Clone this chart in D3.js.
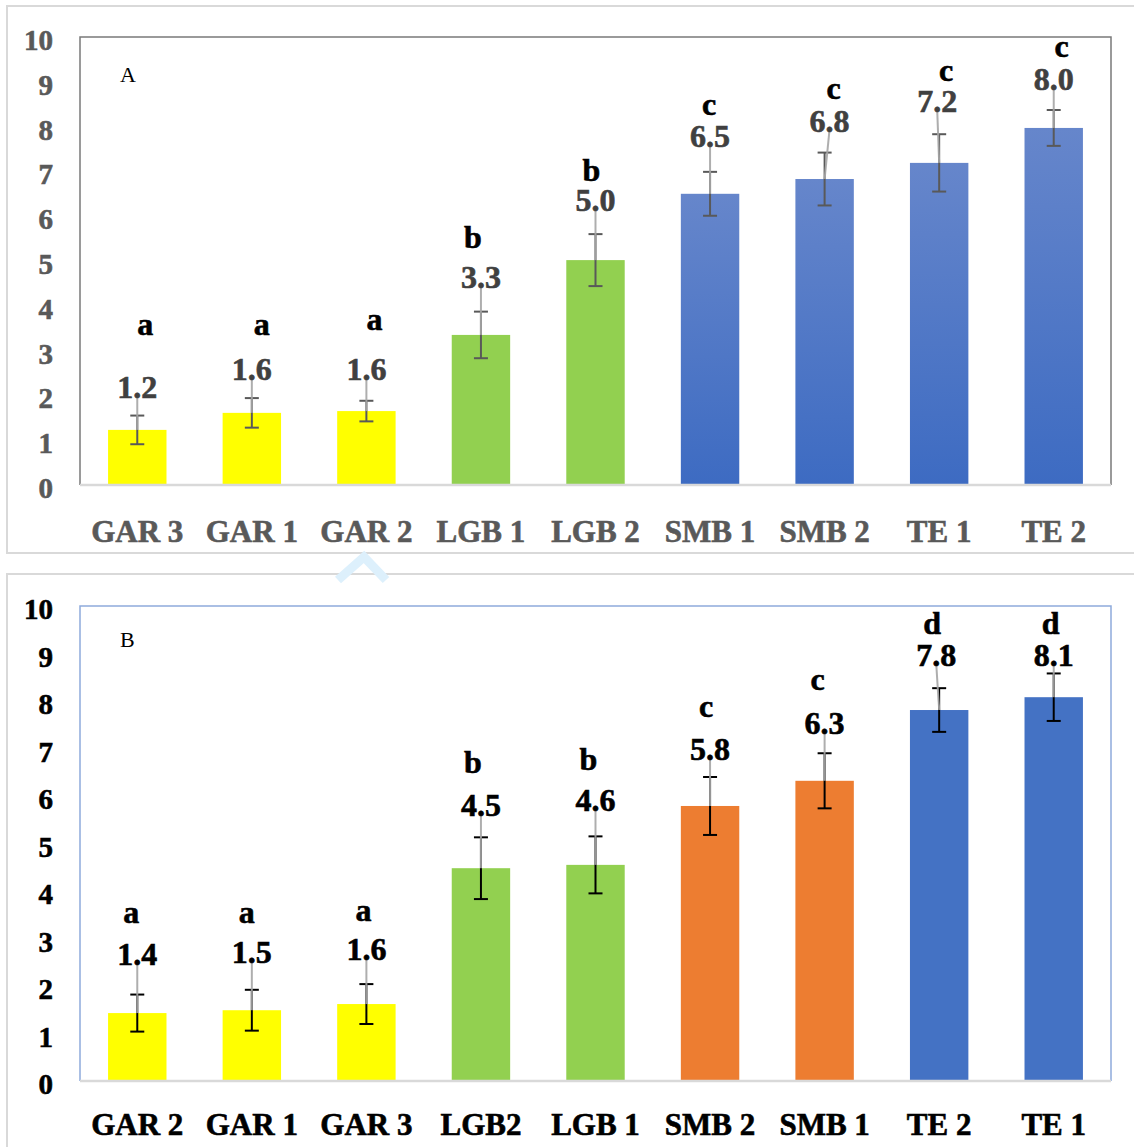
<!DOCTYPE html>
<html><head><meta charset="utf-8">
<script src="https://cdn.jsdelivr.net/npm/d3@7"></script>
<style>html,body{margin:0;padding:0;background:#fff;}svg{display:block;}</style>
</head><body>
<svg id="chart" width="1134" height="1147"></svg>
<script>
// ---------- DATA ----------
const yTicks = [0,1,2,3,4,5,6,7,8,9,10];

const catsA    = ["GAR 3","GAR 1","GAR 2","LGB 1","LGB 2","SMB 1","SMB 2","TE 1","TE 2"];
const groupsA  = ["GAR","GAR","GAR","LGB","LGB","SMB","SMB","TE","TE"];
const valsA    = [1.23,1.61,1.65,3.35,5.02,6.50,6.83,7.19,7.97];
const sdA      = [0.32,0.33,0.23,0.52,0.58,0.49,0.59,0.64,0.40];
const labelsA  = ["1.2","1.6","1.6","3.3","5.0","6.5","6.8","7.2","8.0"];
const lettersA = ["a","a","a","b","b","c","c","c","c"];

const catsB    = ["GAR 2","GAR 1","GAR 3","LGB2","LGB 1","SMB 2","SMB 1","TE 2","TE 1"];
const groupsB  = ["GAR","GAR","GAR","LGB","LGB","SMB","SMB","TE","TE"];
const valsB    = [1.43,1.49,1.62,4.48,4.55,5.79,6.32,7.81,8.08];
const sdB      = [0.39,0.43,0.42,0.65,0.60,0.61,0.58,0.46,0.50];
const labelsB  = ["1.4","1.5","1.6","4.5","4.6","5.8","6.3","7.8","8.1"];
const lettersB = ["a","a","a","b","b","c","c","d","d"];

// ---------- ANNOTATION LAYOUT (label anchors, in axis units / px nudges) ----------
const numAtA = [2.01,2.41,2.41,4.46,6.18,7.61,7.95,8.39,8.88];
const letAtA = [3.53,3.53,3.64,5.54,7.03,8.44,8.79,9.20,9.73];
const numDxA = [0,0,0,0,0,0,5,-2,0];
const letDxA = [8,10,8,-8,-4,-1,9,7,8];

const numAtB = [2.51,2.55,2.61,5.65,5.75,6.82,7.37,8.80,8.80];
const letAtB = [3.49,3.49,3.54,6.72,6.78,7.83,8.40,9.64,9.64];
const numDxB = [0,0,0,0,0,0,0,-3,0];
const letDxB = [-6,-5,-3,-8,-7,-4,-7,-7,-3];

// ---------- DRAW ----------
const svg = d3.select("#chart");
const FONT = "'Liberation Serif','Times New Roman',serif";

const defs = svg.append("defs");
const grad = defs.append("linearGradient").attr("id","blueGrad")
  .attr("x1",0).attr("y1",0).attr("x2",0).attr("y2",1);
grad.append("stop").attr("offset","0%").attr("stop-color","#6686cb");
grad.append("stop").attr("offset","100%").attr("stop-color","#3d6bc2");

// outer frames
svg.append("rect").attr("x",7).attr("y",6).attr("width",1140).attr("height",547)
  .attr("fill","none").attr("stroke","#d9d9d9").attr("stroke-width",2);
svg.append("rect").attr("x",7).attr("y",574).attr("width",1140).attr("height",600)
  .attr("fill","none").attr("stroke","#d9d9d9").attr("stroke-width",2);

// faint watermark fragment
svg.append("path").attr("d","M338,580 L364,557 L386,580")
  .attr("fill","none").attr("stroke","#ddf0fc").attr("stroke-width",9);

function panel(o){
  const x = d3.scaleBand().domain(o.cats).range([o.left,o.right]).paddingInner(0.49).paddingOuter(0.245);
  const y = d3.scaleLinear().domain([0,10]).range([o.bottom,o.top]);
  const g = svg.append("g");
  const idx = d3.range(o.cats.length);

  // plot box
  g.append("path").attr("d",`M${o.left},${o.bottom} V${o.top} H${o.right} V${o.bottom}`)
    .attr("fill","none").attr("stroke",o.boxColor).attr("stroke-width",1.5);

  // bars
  g.selectAll("rect.bar").data(idx).join("rect").attr("class","bar")
    .attr("x",i=>x(o.cats[i])).attr("width",x.bandwidth())
    .attr("y",i=>y(o.vals[i])).attr("height",i=>y(0)-y(o.vals[i]))
    .attr("fill",i=>o.colors[o.groups[i]]);

  // bottom axis line
  g.append("line").attr("x1",o.left).attr("x2",o.right).attr("y1",o.bottom).attr("y2",o.bottom)
    .attr("stroke","#d9d9d9").attr("stroke-width",2.5);

  // error bars
  const cx = i => x(o.cats[i]) + x.bandwidth()/2;
  const eb = g.append("g").attr("stroke",o.errColor).attr("stroke-width",2);
  idx.forEach(i=>{
    const hi = y(o.vals[i]+o.sd[i]), lo = y(o.vals[i]-o.sd[i]);
    eb.append("line").attr("x1",cx(i)).attr("x2",cx(i)).attr("y1",hi).attr("y2",lo);
    eb.append("line").attr("x1",cx(i)-7).attr("x2",cx(i)+7).attr("y1",hi).attr("y2",hi);
    eb.append("line").attr("x1",cx(i)-7).attr("x2",cx(i)+7).attr("y1",lo).attr("y2",lo);
  });

  // leader lines from value label to bar top
  idx.forEach(i=>{
    g.append("line").attr("x1",cx(i)+o.numDx[i]).attr("y1",y(o.numAt[i]))
      .attr("x2",cx(i)).attr("y2",y(o.vals[i]))
      .attr("stroke","#a6a6a6").attr("stroke-width",2).attr("opacity",0.9);
  });

  const bold = sel => sel.attr("font-family",FONT).attr("font-weight","bold")
    .attr("stroke-width",0.6).attr("paint-order","stroke");

  // value labels
  g.selectAll("text.num").data(idx).join("text").attr("class","num")
    .attr("x",i=>cx(i)+o.numDx[i]).attr("y",i=>y(o.numAt[i])+3)
    .attr("text-anchor","middle").call(bold)
    .attr("font-size",32).attr("fill",o.numColor).attr("stroke",o.numColor).text(i=>o.labels[i]);

  // significance letters
  g.selectAll("text.let").data(idx).join("text").attr("class","let")
    .attr("x",i=>cx(i)+o.letDx[i]).attr("y",i=>y(o.letAt[i]) + (/[bd]/.test(o.letters[i]) ? 11 : 8))
    .attr("text-anchor","middle").call(bold)
    .attr("font-size",32).attr("fill","#000").attr("stroke","#000").text(i=>o.letters[i]);

  // y tick labels
  g.selectAll("text.yt").data(yTicks).join("text").attr("class","yt")
    .attr("x",53).attr("y",d=>y(d)+o.tickDy)
    .attr("text-anchor","end").call(bold)
    .attr("font-size",29).attr("fill",o.axisColor).attr("stroke",o.axisColor).text(d=>d);

  // x labels
  g.selectAll("text.xt").data(idx).join("text").attr("class","xt")
    .attr("x",i=>cx(i)).attr("y",o.xLabelY)
    .attr("text-anchor","middle").call(bold)
    .attr("font-size",31).attr("fill",o.axisColor).attr("stroke",o.axisColor).text(i=>o.cats[i]);

  // panel letter
  g.append("text").attr("x",120).attr("y",o.top+o.tagDy).attr("font-family",FONT)
    .attr("font-size",22).attr("fill","#000").text(o.tag);
}

panel({
  cats:catsA, groups:groupsA, vals:valsA, sd:sdA, labels:labelsA, letters:lettersA,
  numAt:numAtA, letAt:letAtA, numDx:numDxA, letDx:letDxA,
  left:80, right:1111, top:37, bottom:485, tickDy:13, xLabelY:542, tag:"A", tagDy:45,
  boxColor:"#7a7a7a", errColor:"#595959", numColor:"#404040", axisColor:"#595959",
  colors:{GAR:"#ffff00", LGB:"#92d050", SMB:"url(#blueGrad)", TE:"url(#blueGrad)"}
});

panel({
  cats:catsB, groups:groupsB, vals:valsB, sd:sdB, labels:labelsB, letters:lettersB,
  numAt:numAtB, letAt:letAtB, numDx:numDxB, letDx:letDxB,
  left:80, right:1111, top:606, bottom:1081, tickDy:13, xLabelY:1135, tag:"B", tagDy:41,
  boxColor:"#8eaadb", errColor:"#000000", numColor:"#000000", axisColor:"#000000",
  colors:{GAR:"#ffff00", LGB:"#92d050", SMB:"#ed7d31", TE:"#4472c4"}
});
</script>
</body></html>
